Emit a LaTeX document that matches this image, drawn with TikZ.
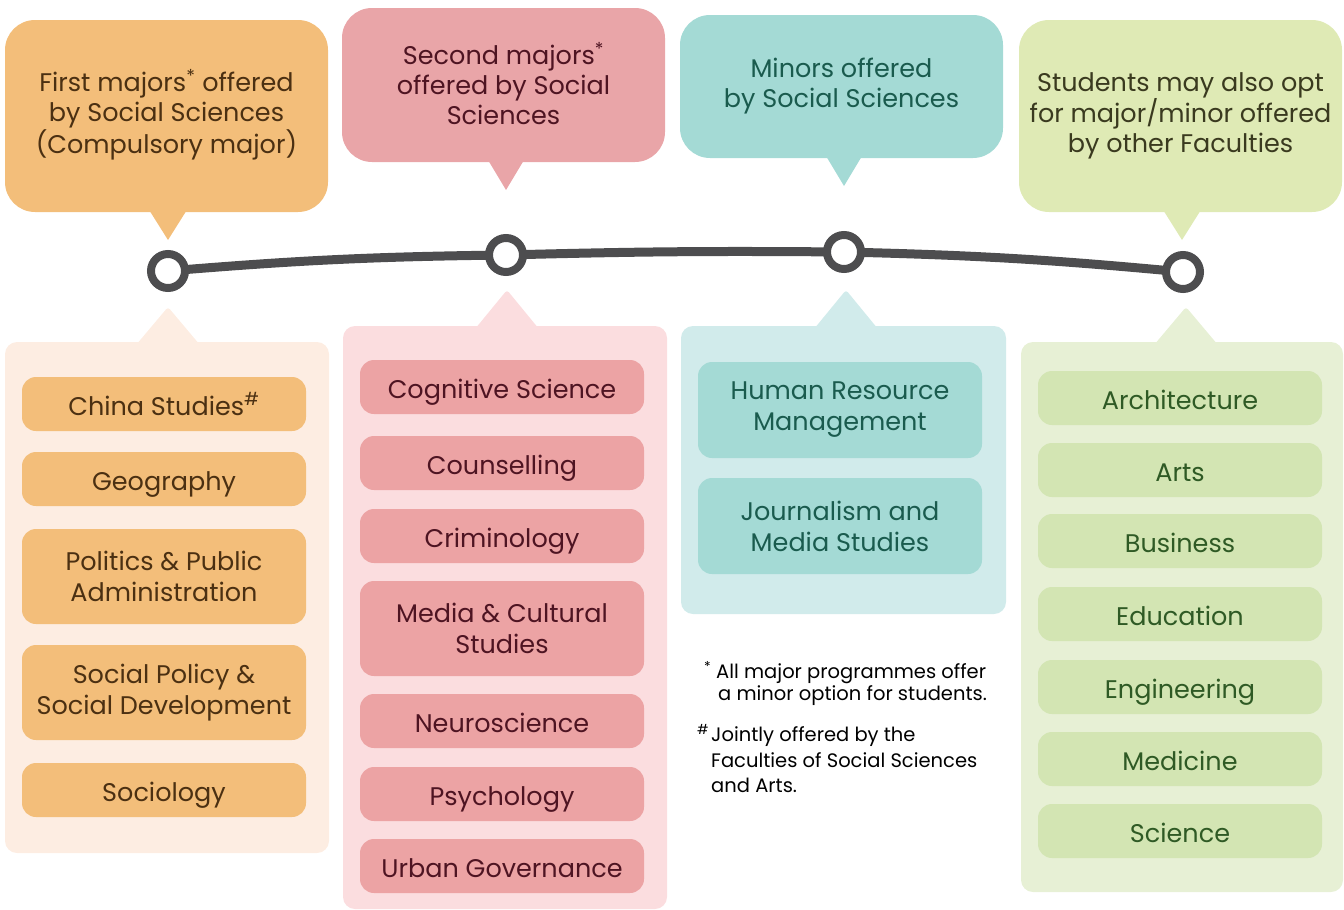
\documentclass[tikz,border=0pt]{standalone}
\usepackage{fontspec}
\setmainfont{Poppins}
\usetikzlibrary{positioning}

\definecolor{orangeMain}{HTML}{F3BE7A}
\definecolor{orangeLight}{HTML}{FDEDE2}
\definecolor{orangeText}{HTML}{4B3012}
\definecolor{pinkTop}{HTML}{E9A5A8}
\definecolor{pinkMain}{HTML}{ECA3A4}
\definecolor{pinkLight}{HTML}{FBDDDF}
\definecolor{pinkText}{HTML}{4E1422}
\definecolor{tealMain}{HTML}{A4DAD5}
\definecolor{tealLight}{HTML}{D1EBEB}
\definecolor{tealText}{HTML}{1A5B4E}
\definecolor{greenTop}{HTML}{DFEAB5}
\definecolor{greenMain}{HTML}{D3E5B3}
\definecolor{greenLight}{HTML}{E7F0D5}
\definecolor{greenText}{HTML}{2F5A25}
\definecolor{oliveText}{HTML}{3A3A1F}
\definecolor{lineGrey}{HTML}{4D4D4F}

\tikzstyle{bubble} = [rectangle, rounded corners=30, align=center, inner sep=0pt, font=\fontsize{25.5}{30}\selectfont]
\tikzstyle{panel} = [rectangle, rounded corners=12, inner sep=0pt]
\tikzstyle{item} = [rectangle, rounded corners=14, align=center, inner sep=0pt, minimum width=284, minimum height=54, font=\fontsize{25.5}{31}\selectfont]
\tikzstyle{single} = [text height=22, text depth=0]
\tikzstyle{dot} = [circle, draw=lineGrey, line width=8, fill=white, minimum size=34, inner sep=0pt]
\tikzstyle{timeline} = [line width=9, lineGrey]
\tikzstyle{note} = [anchor=north west, align=left, inner sep=0pt, font=\fontsize{19.5}{22}\selectfont]

\begin{document}
\begin{tikzpicture}[x=1pt, y=-1pt]

    \useasboundingbox (0,0) rectangle (1344,910);

    % Top bubbles
    \fill [orangeMain] (146,205) -- (168,240) -- (190,205) -- cycle;
    \node (first) [bubble, fill=orangeMain, text=orangeText, minimum width=323, minimum height=192] at (166.5,116)
        {First majors\smash{\textsuperscript{*}} offered\\by Social Sciences\\(Compulsory major)};

    \fill [pinkTop] (485,155) -- (506,190) -- (527,155) -- cycle;
    \node (second) [bubble, fill=pinkTop, text=pinkText, minimum width=323, minimum height=154] at (503.5,85)
        {Second majors\smash{\textsuperscript{*}}\\offered by Social\\Sciences};

    \fill [tealMain] (823,151) -- (844,186) -- (865,151) -- cycle;
    \node (minors) [bubble, fill=tealMain, text=tealText, minimum width=323, minimum height=143] at (841.5,86.5)
        {Minors offered\\by Social Sciences};

    \fill [greenTop] (1160,205) -- (1182,240) -- (1204,205) -- cycle;
    \node (others) [bubble, fill=greenTop, text=oliveText, minimum width=323, minimum height=192] at (1180.5,116)
        {Students may also opt\\for major/minor offered\\by other Faculties};

    % Timeline
    \coordinate (c1) at (168,271);
    \coordinate (c2) at (506,255);
    \coordinate (c3) at (844,252);
    \coordinate (c4) at (1183,272);
    \draw [timeline] (c1) to [bend left=2] (c2) to [bend left=1] (c3) to [bend left=2] (c4);
    \node (t1) [dot] at (c1) {};
    \node (t2) [dot] at (c2) {};
    \node (t3) [dot] at (c3) {};
    \node (t4) [dot] at (c4) {};

    % Lower panels
    \fill [orangeLight, rounded corners=3] (136,345) -- (168,307) -- (200,345) -- cycle;
    \node (panelFirst) [panel, fill=orangeLight, minimum width=324, minimum height=511] at (167,597.5) {};

    \fill [pinkLight, rounded corners=3] (475,329) -- (507,290) -- (539,329) -- cycle;
    \node (panelSecond) [panel, fill=pinkLight, minimum width=324, minimum height=583] at (505,617.5) {};

    \fill [tealLight, rounded corners=3] (814,329) -- (846,290) -- (878,329) -- cycle;
    \node (panelMinors) [panel, fill=tealLight, minimum width=325, minimum height=288] at (843.5,470) {};

    \fill [greenLight, rounded corners=3] (1154,345) -- (1186,307) -- (1218,345) -- cycle;
    \node (panelOthers) [panel, fill=greenLight, minimum width=322, minimum height=550] at (1182,617) {};

    % First majors
    \node (china) [item, single, fill=orangeMain, text=orangeText] at (164,404) {China Studies\smash{\textsuperscript{\#}}};
    \node (geog) [item, single, fill=orangeMain, text=orangeText] at (164,479) {Geography};
    \node (politics) [item, fill=orangeMain, text=orangeText, minimum height=95] at (164,576.5) {Politics \& Public\\Administration};
    \node (policy) [item, fill=orangeMain, text=orangeText, minimum height=95] at (164,692.5) {Social Policy \&\\Social Development};
    \node (socio) [item, single, fill=orangeMain, text=orangeText] at (164,790) {Sociology};

    % Second majors
    \node (cogsci) [item, single, fill=pinkMain, text=pinkText] at (502,387) {Cognitive Science};
    \node (counsel) [item, single, fill=pinkMain, text=pinkText] at (502,463) {Counselling};
    \node (crim) [item, single, fill=pinkMain, text=pinkText] at (502,536) {Criminology};
    \node (media) [item, fill=pinkMain, text=pinkText, minimum height=95] at (502,628.5) {Media \& Cultural\\Studies};
    \node (neuro) [item, single, fill=pinkMain, text=pinkText] at (502,721) {Neuroscience};
    \node (psych) [item, single, fill=pinkMain, text=pinkText] at (502,794) {Psychology};
    \node (urban) [item, single, fill=pinkMain, text=pinkText] at (502,866) {Urban Governance};

    % Minors
    \node (hrm) [item, fill=tealMain, text=tealText, minimum height=96] at (840,410) {Human Resource\\Management};
    \node (journal) [item, fill=tealMain, text=tealText, minimum height=96] at (840,526) {Journalism and\\Media Studies};

    % Other Faculties
    \node (arch) [item, single, fill=greenMain, text=greenText] at (1180,398) {Architecture};
    \node (arts) [item, single, fill=greenMain, text=greenText] at (1180,470) {Arts};
    \node (business) [item, single, fill=greenMain, text=greenText] at (1180,541) {Business};
    \node (edu) [item, single, fill=greenMain, text=greenText] at (1180,614) {Education};
    \node (eng) [item, single, fill=greenMain, text=greenText] at (1180,687) {Engineering};
    \node (med) [item, single, fill=greenMain, text=greenText] at (1180,759) {Medicine};
    \node (sci) [item, single, fill=greenMain, text=greenText] at (1180,831) {Science};

    % Footnotes
    \node (noteStar) [note] at (716,661) {\llap{\textsuperscript{*}\hspace{5pt}}All major programmes offer\\\hspace{2pt}a minor option for students.};
    \node (noteHash) [note, font=\fontsize{19.5}{25.5}\selectfont] at (711,724) {\llap{\textsuperscript{\#}\hspace{2pt}}Jointly offered by the\\Faculties of Social Sciences\\and Arts.};

\end{tikzpicture}
\end{document}
